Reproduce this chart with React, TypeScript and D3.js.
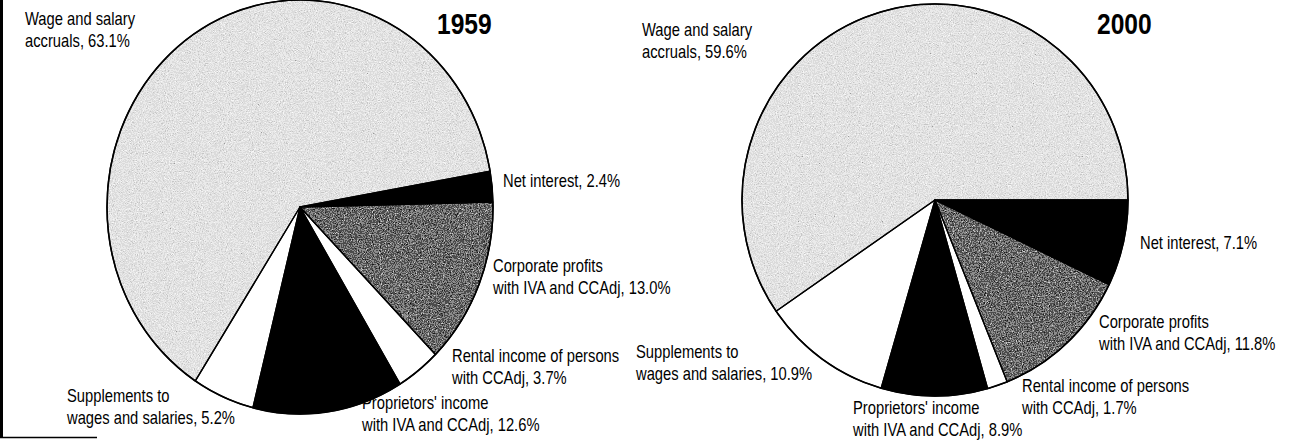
import React from "react";
import * as d3 from "d3";

// shares of national income, percent
const years = ["1959", "2000"];
const categories = [
  "Net interest",
  "Corporate profits",
  "Rental income of persons",
  "Proprietors' income",
  "Supplements to wages and salaries",
  "Wage and salary accruals",
];
const labelTop = ["", "Corporate profits", "Rental income of persons", "Proprietors' income", "Supplements to", "Wage and salary"];
const labelBottom = ["Net interest", "with IVA and CCAdj", "with CCAdj", "with IVA and CCAdj", "wages and salaries", "accruals"];
const values1959 = [2.4, 13.0, 3.7, 12.6, 5.2, 63.1];
const values2000 = [7.1, 11.8, 1.7, 8.9, 10.9, 59.6];

// fill style per category: solid colour or grain filter
const fills = ["#000", "#fff", "#fff", "#000", "#fff", "#fff"];
const grain = ["", "url(#grainDark)", "", "", "", "url(#grainLight)"];

// layout of the two pies (ellipses in the original print)
const layout = [
  {
    cx: 300, cy: 207, rx: 193, ry: 207, start: 80, titleX: 437,
    labels: [[503, 187], [493, 272], [452, 362], [362, 409], [67, 402], [25, 25]],
  },
  {
    cx: 935, cy: 200, rx: 193, ry: 196, start: 90, titleX: 1097,
    labels: [[1140, 249], [1099, 328], [1022, 392], [853, 414], [636, 358], [642, 36]],
  },
];

// no narrow font installed: squeeze Liberation Sans like Arial Narrow
const FONT = "'Liberation Sans', Arial, sans-serif";
const SQUEEZE = 0.82;
const LINE = 22;

function Pie({ values, year, cfg }) {
  var pie = d3
    .pie()
    .sort(null)
    .value(d => d)
    .startAngle((cfg.start * Math.PI) / 180)
    .endAngle(((cfg.start + 360) * Math.PI) / 180);
  var arcs = pie(values);
  var arc = d3.arc().innerRadius(0).outerRadius(cfg.ry);
  var fmt = d3.format(".1f");

  return (
    <g>
      <g transform={`translate(${cfg.cx},${cfg.cy}) scale(${cfg.rx / cfg.ry},1)`}>
        {arcs.map((a, i) => (
          <path key={"f" + i} d={arc(a)} fill={fills[i]} filter={grain[i] || undefined} />
        ))}
        {arcs.map((a, i) => (
          <path
            key={"s" + i}
            d={arc(a)}
            fill="none"
            stroke="#000"
            strokeWidth={1.3}
            strokeLinejoin="round"
            vectorEffect="non-scaling-stroke"
          />
        ))}
        <ellipse rx={cfg.ry} ry={cfg.ry} fill="none" stroke="#000" strokeWidth={1.6} vectorEffect="non-scaling-stroke" />
      </g>
      <text
        transform={`translate(${cfg.titleX},34) scale(${SQUEEZE},1)`}
        fontFamily={FONT}
        fontWeight="bold"
        fontSize={30}
        fill="#000"
      >
        {year}
      </text>
      {categories.map((c, i) => {
        var [x, y] = cfg.labels[i];
        var last = labelBottom[i] + ", " + fmt(values[i]) + "%";
        return (
          <text
            key={c}
            transform={`translate(${x},${y}) scale(${SQUEEZE},1)`}
            fontFamily={FONT}
            fontSize={18}
            fill="#000"
          >
            {labelTop[i] ? (
              <>
                <tspan x={0}>{labelTop[i]}</tspan>
                <tspan x={0} dy={LINE}>{last}</tspan>
              </>
            ) : (
              <tspan x={0}>{last}</tspan>
            )}
          </text>
        );
      })}
    </g>
  );
}

export default function App() {
  return (
    <svg
      width={1291}
      height={440}
      style={{ position: "absolute", left: 0, top: 0, background: "#fff" }}
    >
      <defs>
        <filter id="grainLight" x="0%" y="0%" width="100%" height="100%" colorInterpolationFilters="sRGB">
          <feTurbulence type="fractalNoise" baseFrequency="0.9" numOctaves={2} seed={4} result="n" />
          <feColorMatrix
            in="n"
            type="matrix"
            values="0.33 0.33 0.33 0 0  0.33 0.33 0.33 0 0  0.33 0.33 0.33 0 0  0 0 0 0 1"
            result="g"
          />
          <feComponentTransfer in="g" result="t">
            <feFuncR type="discrete" tableValues="0.35 0.6 0.78 0.86 0.92 0.97 1 1" />
            <feFuncG type="discrete" tableValues="0.35 0.6 0.78 0.86 0.92 0.97 1 1" />
            <feFuncB type="discrete" tableValues="0.35 0.6 0.78 0.86 0.92 0.97 1 1" />
          </feComponentTransfer>
          <feComposite in="t" in2="SourceGraphic" operator="in" />
        </filter>
        <filter id="grainDark" x="0%" y="0%" width="100%" height="100%" colorInterpolationFilters="sRGB">
          <feTurbulence type="fractalNoise" baseFrequency="0.8" numOctaves={2} seed={9} result="n" />
          <feColorMatrix
            in="n"
            type="matrix"
            values="0.33 0.33 0.33 0 0  0.33 0.33 0.33 0 0  0.33 0.33 0.33 0 0  0 0 0 0 1"
            result="g"
          />
          <feComponentTransfer in="g" result="t">
            <feFuncR type="discrete" tableValues="0 0 0.1 0.3 0.55 0.8 1 1" />
            <feFuncG type="discrete" tableValues="0 0 0.1 0.3 0.55 0.8 1 1" />
            <feFuncB type="discrete" tableValues="0 0 0.1 0.3 0.55 0.8 1 1" />
          </feComponentTransfer>
          <feComposite in="t" in2="SourceGraphic" operator="in" />
        </filter>
      </defs>
      <line x1={1.5} y1={0} x2={1.5} y2={437} stroke="#000" strokeWidth={3} />
      <line x1={0} y1={437.5} x2={97} y2={437.5} stroke="#000" strokeWidth={1.5} />
      <Pie values={values1959} year={years[0]} cfg={layout[0]} />
      <Pie values={values2000} year={years[1]} cfg={layout[1]} />
    </svg>
  );
}
